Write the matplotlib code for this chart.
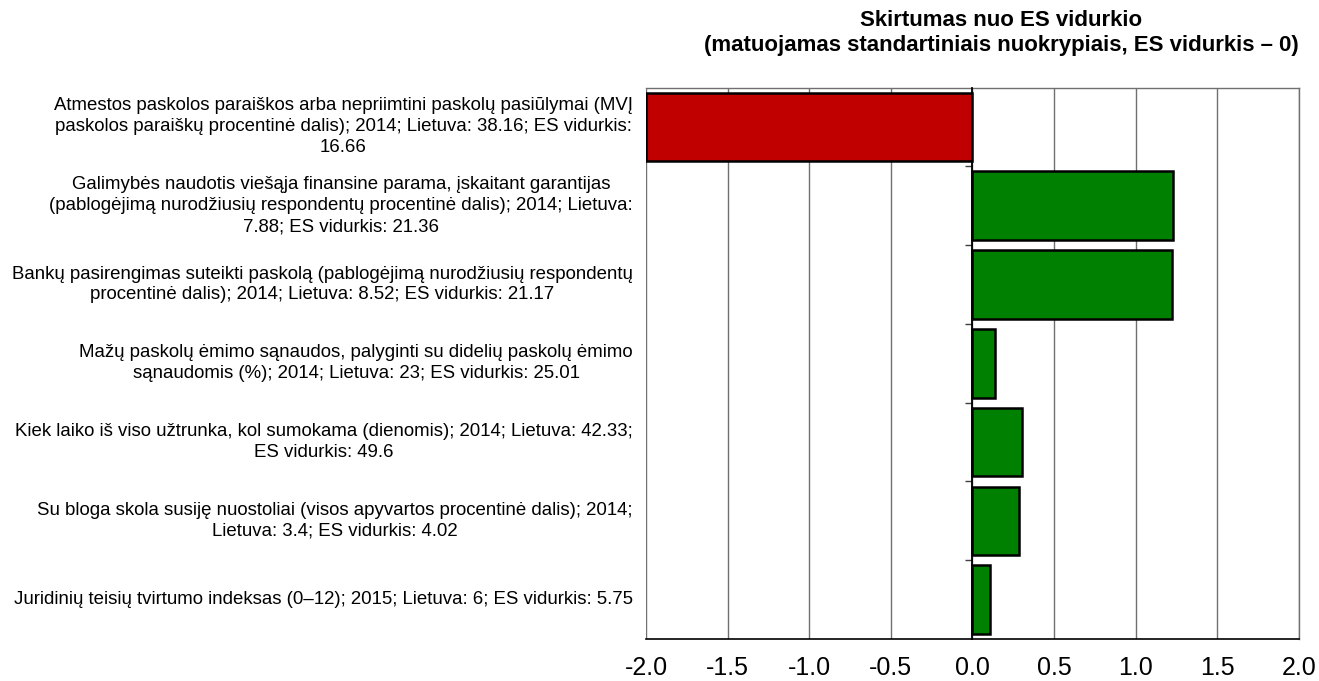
import matplotlib
matplotlib.use("Agg")
from matplotlib import pyplot as plt

plt.rcParams['font.family'] = ['Liberation Sans', 'DejaVu Sans']

labels = [
    "Atmestos paskolos paraiškos arba nepriimtini paskolų pasiūlymai (MVĮ\npaskolos paraiškų procentinė dalis); 2014; Lietuva: 38.16; ES vidurkis:\n16.66",
    "Galimybės naudotis viešąja finansine parama, įskaitant garantijas\n(pablogėjimą nurodžiusių respondentų procentinė dalis); 2014; Lietuva:\n7.88; ES vidurkis: 21.36",
    "Bankų pasirengimas suteikti paskolą (pablogėjimą nurodžiusių respondentų\nprocentinė dalis); 2014; Lietuva: 8.52; ES vidurkis: 21.17",
    "Mažų paskolų ėmimo sąnaudos, palyginti su didelių paskolų ėmimo\nsąnaudomis (%); 2014; Lietuva: 23; ES vidurkis: 25.01",
    "Kiek laiko iš viso užtrunka, kol sumokama (dienomis); 2014; Lietuva: 42.33;\nES vidurkis: 49.6",
    "Su bloga skola susiję nuostoliai (visos apyvartos procentinė dalis); 2014;\nLietuva: 3.4; ES vidurkis: 4.02",
    "Juridinių teisių tvirtumo indeksas (0–12); 2015; Lietuva: 6; ES vidurkis: 5.75",
]
values = [-2.0, 1.23, 1.22, 0.14, 0.305, 0.285, 0.108]
xticks = [-2.0, -1.5, -1.0, -0.5, 0.0, 0.5, 1.0, 1.5, 2.0]
title = "Skirtumas nuo ES vidurkio\n(matuojamas standartiniais nuokrypiais, ES vidurkis – 0)"

colors = ['#C00000' if v < 0 else '#008000' for v in values]
pos = list(range(len(values)))

fig = plt.figure(figsize=(13.19, 6.81), dpi=100)
ax = fig.add_axes([0.4898, 0.0617, 0.4950, 0.8098])

ax.barh(pos, values, height=0.87, color=colors, edgecolor='black', linewidth=1.8, zorder=3)

ax.set_xlim(-2.0, 2.0)
ax.set_ylim(len(values) - 0.5, -0.5)
ax.set_xticks(xticks)
ax.set_xticklabels(["{:.1f}".format(t) for t in xticks], fontsize=18)
ax.tick_params(axis='x', length=0, pad=12)
ax.grid(axis='x', color='#707070', linewidth=1.0, zorder=0)

# zero line with ticks on category boundaries
ax.spines['left'].set_position(('data', 0))
ax.spines['left'].set_color('black')
ax.spines['left'].set_linewidth(1.3)
ax.spines['left'].set_zorder(4)
ax.set_yticks([i + 0.5 for i in pos[:-1]])
ax.set_yticklabels([])
ax.tick_params(axis='y', direction='out', length=5, width=1, color='#404040')

for s in ['top', 'right']:
    ax.spines[s].set_color('#707070')
    ax.spines[s].set_linewidth(1.0)
ax.spines['bottom'].set_color('black')
ax.spines['bottom'].set_linewidth(1.2)

for i, lab in enumerate(labels):
    ax.text(-0.02, i, lab, transform=ax.get_yaxis_transform(), ha='right', va='center',
            multialignment='center', fontsize=13.4, linespacing=1.3)

fig.text(1001 / 1319, 1 - 33 / 681, title, ha='center', va='center', fontsize=16,
         fontweight='bold', linespacing=1.2)

fig.savefig("out.png", dpi=100)
